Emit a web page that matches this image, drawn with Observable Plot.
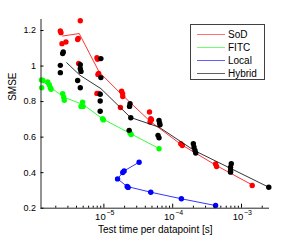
<!DOCTYPE html>
<html><head><meta charset="utf-8">
<script src="https://cdn.jsdelivr.net/npm/d3@7"></script>
<script src="https://cdn.jsdelivr.net/npm/@observablehq/plot@0.6"></script>
<style>
html,body{margin:0;padding:0;background:#fff;}
#wrap{position:relative;width:300px;height:241px;font-family:"Liberation Sans",Arial,sans-serif;}
#wrap svg{display:block;}
#legend{position:absolute;left:190px;top:24px;width:75px;height:56px;border:1px solid #404040;box-sizing:border-box;background:#fff;font-size:10px;color:#000;}
.row{position:absolute;left:0;height:13px;width:72px;}
.sw{position:absolute;left:6px;width:28px;top:6px;height:0;border-top:1px solid;}
.lab{position:absolute;left:37px;top:0;line-height:13px;white-space:nowrap;}
</style></head><body><div id="wrap"></div>
<script>
const methods = ["SoD", "FITC", "Local", "Hybrid"];
const colors = ["#ff0000", "#00ff00", "#0000ff", "#000000"];
const legendColors = ["#ff7070", "#70ff70", "#6060ff", "#606060"];

// SoD
const sodX = [2.33e-6,2.38e-6,2.46e-6,2.81e-6,4.54e-6,4.16e-6,4.23e-6,4.30e-6,7.93e-6,8.11e-6,8.4e-6,8.2e-6,7.93e-6,8.4e-6,1.81e-5,1.87e-5,1.88e-5,1.74e-5,4.6e-5,4.8e-5,4.91e-5,4.69e-5,1.31e-4,1.38e-4,4.20e-4,4.34e-4,1.43e-3];
const sodY = [1.197,1.188,1.126,1.135,1.255,1.149,1.156,1.014,1.047,1.038,0.959,0.953,0.846,0.846,0.859,0.845,0.829,0.767,0.741,0.704,0.698,0.685,0.563,0.553,0.449,0.435,0.328];
const sodLineX = [2.52e-6,4.38e-6,8.55e-6,1.76e-5,4.7e-5,1.31e-4,4.27e-4,1.43e-3];
const sodLineY = [1.169,1.183,0.966,0.845,0.689,0.560,0.441,0.331];

// FITC
const fitcX = [1.24e-6,1.30e-6,1.25e-6,1.53e-6,1.61e-6,1.67e-6,1.71e-6,2.52e-6,2.61e-6,2.66e-6,4.91e-6,4.65e-6,4.98e-6,9.58e-6,9.85e-6,2.40e-5,2.49e-5,6.33e-5];
const fitcY = [0.922,0.919,0.878,0.910,0.895,0.878,0.869,0.845,0.825,0.807,0.797,0.773,0.773,0.704,0.697,0.623,0.615,0.535];
const fitcLineX = [1.285e-6,2.63e-6,4.95e-6,9.58e-6,2.40e-5,6.33e-5];
const fitcLineY = [0.914,0.824,0.784,0.703,0.621,0.536];

// Local
const localX = [3.25e-5,1.97e-5,1.88e-5,1.58e-5,2.18e-5,2.25e-5,4.80e-5,1.337e-4,4.20e-4];
const localY = [0.459,0.410,0.401,0.365,0.322,0.317,0.290,0.253,0.215];
const localLineX = [3.25e-5,1.97e-5,1.58e-5,2.18e-5,4.80e-5,1.337e-4,4.20e-4];
const localLineY = [0.459,0.410,0.365,0.322,0.290,0.253,0.215];

// Hybrid
const hybX = [2.52e-6,2.57e-6,2.33e-6,2.33e-6,4.54e-6,4.54e-6,4.65e-6,4.16e-6,4.54e-6,9.05e-6,9.05e-6,8.84e-6,8.84e-6,8.84e-6,2.40e-5,2.36e-5,2.46e-5,2.33e-5,6.33e-5,6.45e-5,6.54e-5,6.12e-5,6.33e-5,1.995e-4,2.04e-4,2.11e-4,2.16e-4,7.10e-4,6.93e-4,6.93e-4,6.93e-4,2.49e-3];
const hybY = [1.070,1.079,1.004,0.963,1.008,0.985,0.970,0.919,0.878,1.042,0.935,0.841,0.803,0.746,0.788,0.773,0.709,0.638,0.694,0.679,0.669,0.610,0.596,0.563,0.544,0.525,0.510,0.450,0.431,0.412,0.403,0.318];
const hybLineX = [2.88e-6,4.5e-6,9.05e-6,2.43e-5,6.33e-5,2.05e-4,7.2e-4,2.49e-3];
const hybLineY = [1.019,0.948,0.873,0.711,0.656,0.525,0.421,0.318];

const xDomain = [1.22e-6, 2.55e-3];
const yDomain = [0.2, 1.262];
const yTicks = [0.2, 0.4, 0.6, 0.8, 1, 1.2];
const yTickLabels = ["0.2", "0.4", "0.6", "0.8", "1", "1.2"];
const xTicks = [1e-5, 1e-4, 1e-3];
const xTickBase = ["10", "10", "10"];
const xTickExp = ["\u22125", "\u22124", "\u22123"];
const xLabel = "Test time per datapoint [s]";
const yLabel = "SMSE";

const xMinor = [];
for (let e = -6; e <= -3; e++) for (let k = 2; k <= 9; k++) {
  const v = k * Math.pow(10, e);
  if (v >= xDomain[0] && v <= xDomain[1]) xMinor.push(v);
}

function pts(xs, ys, m) { return xs.map((x, i) => ({x, y: ys[i], m})); }
const series = [
  {dots: pts(sodX, sodY, "SoD"), line: pts(sodLineX, sodLineY, "SoD")},
  {dots: pts(fitcX, fitcY, "FITC"), line: pts(fitcLineX, fitcLineY, "FITC")},
  {dots: pts(localX, localY, "Local"), line: pts(localLineX, localLineY, "Local")},
  {dots: pts(hybX, hybY, "Hybrid"), line: pts(hybLineX, hybLineY, "Hybrid")}
];

const dataMarks = [];
series.forEach((s, i) => {
  dataMarks.push(Plot.dot(s.dots, {x: "x", y: "y", r: 2.7, fill: colors[i], stroke: "none"}));
  dataMarks.push(Plot.line(s.line, {x: "x", y: "y", stroke: colors[i], strokeWidth: 0.8, curve: "linear"}));
});

const chart = Plot.plot({
  width: 300, height: 241,
  marginLeft: 40.5, marginRight: 31, marginTop: 19, marginBottom: 33.3,
  x: {type: "log", domain: xDomain},
  y: {domain: yDomain},
  style: {fontFamily: "'Liberation Sans', Arial, sans-serif", fontSize: "9px", background: "white", color: "black"},
  marks: [
    ...dataMarks,
    Plot.ruleY([yDomain[0]], {stroke: "#262626", strokeWidth: 1}),
    Plot.ruleX([xDomain[0]], {stroke: "#262626", strokeWidth: 1}),
    Plot.axisY({ticks: yTicks, tickSize: -3, tickPadding: 8, tickFormat: d => yTickLabels[yTicks.indexOf(d)], label: null, fontSize: 9}),
    Plot.axisX({ticks: xMinor, tickSize: -2, tickFormat: () => "", label: null}),
    Plot.axisX({ticks: xTicks, tickSize: -4, tickFormat: () => "", label: null}),
    Plot.text(xTicks, {x: d => d, text: (d, i) => xTickBase[i], frameAnchor: "bottom", dy: 12, dx: -3.5, fontSize: 9.5}),
    Plot.text(xTicks, {x: d => d, text: (d, i) => xTickExp[i], frameAnchor: "bottom", dy: 7, dx: 2.5, textAnchor: "start", fontSize: 7}),
    Plot.text([xLabel], {frameAnchor: "bottom", dy: 24.5, fontSize: 10}),
    Plot.text([yLabel], {frameAnchor: "left", rotate: -90, dx: -28, dy: -13, fontSize: 10})
  ]
});
const wrap = document.getElementById("wrap");
wrap.appendChild(chart);

const legend = document.createElement("div");
legend.id = "legend";
methods.forEach((m, i) => {
  const row = document.createElement("div");
  row.className = "row";
  row.style.top = (2.5 + i * 13) + "px";
  const sw = document.createElement("div");
  sw.className = "sw";
  sw.style.borderTopColor = legendColors[i];
  const lab = document.createElement("div");
  lab.className = "lab";
  lab.textContent = m;
  row.appendChild(sw); row.appendChild(lab);
  legend.appendChild(row);
});
wrap.appendChild(legend);
</script></body></html>
